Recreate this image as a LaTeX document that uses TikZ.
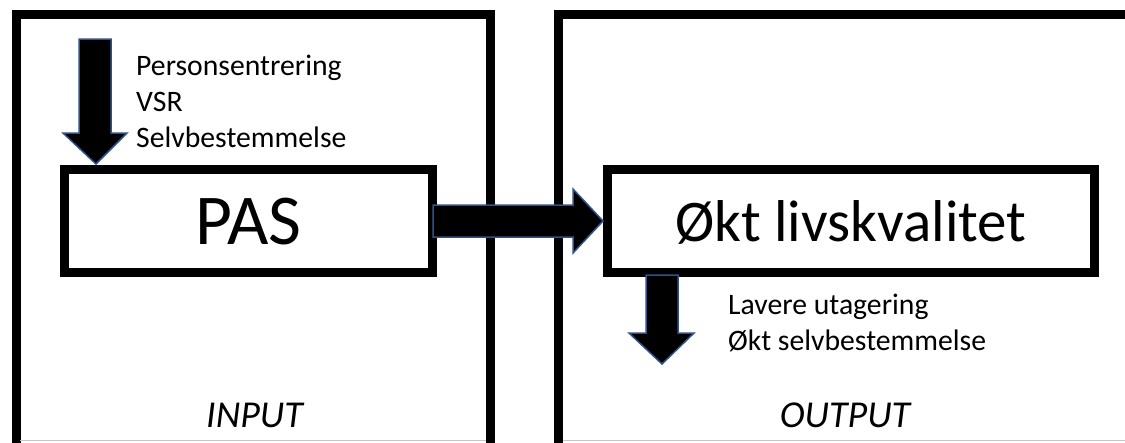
\documentclass[tikz,border=0pt]{standalone}
\usepackage{fontspec}
\setmainfont{Carlito}
\usetikzlibrary{calc}
\definecolor{arrowblue}{HTML}{2F528F}
\tikzset{
  frame/.style={line width=9pt, draw=black},
  innerbox/.style={draw=black, line width=9pt, fill=white, rectangle, inner sep=0pt, text depth=0pt},
  blockarrow/.style={fill=black, draw=arrowblue, line width=1.5pt, line join=miter},
  smalltxt/.style={anchor=base west, inner sep=0pt, font=\fontsize{29.7}{36}\selectfont},
  captxt/.style={anchor=base, inner sep=0pt, font=\fontsize{38}{40}\selectfont\itshape},
}
\begin{document}
\begin{tikzpicture}[x=1pt, y=-1pt]
\useasboundingbox (0,0) rectangle (1125,442);
\clip (0,0) rectangle (1125,442);
% big frames
\draw[frame] (16,460) -- (16,14.5) -- (490.5,14.5) -- (490.5,460);
\draw[frame] (558.5,460) -- (558.5,14.5) -- (1140,14.5);
\draw[gray!45, line width=1pt] (20,440.5) -- (486,440.5);
\draw[gray!45, line width=1pt] (563,440.5) -- (1125,440.5);
% inner boxes
\node[innerbox, minimum width=368pt, minimum height=103pt, font=\fontsize{71.5}{74}\selectfont] (pas) at (248.5,221) {PAS};
\node[innerbox, minimum width=487pt, minimum height=103pt, font=\fontsize{59}{64}\selectfont] (okt) at (851,221) {Økt livskvalitet};
% horizontal block arrow
\draw[blockarrow] ($(pas.east)+(-4,-16)$) -- ($(okt.west)+(-30,-16)$) -- ($(okt.west)+(-30,-32)$) -- (okt.west)
  -- ($(okt.west)+(-30,32)$) -- ($(okt.west)+(-30,16)$) -- ($(pas.east)+(-4,16)$) -- cycle;
% left down arrow
\coordinate (tipL) at ($(pas.north west)+(36,-1)$);
\draw[blockarrow] (tipL) -- ($(tipL)+(-33,-31)$) -- ($(tipL)+(-17,-31)$) -- ($(tipL)+(-17,-125)$)
  -- ($(tipL)+(15,-125)$) -- ($(tipL)+(15,-31)$) -- ($(tipL)+(31,-31)$) -- cycle;
% right down arrow
\coordinate (tipR) at ($(okt.south west)+(59,87)$);
\draw[blockarrow] (tipR) -- ($(tipR)+(-33,-31)$) -- ($(tipR)+(-16,-31)$) -- ($(tipR)+(-16,-89)$)
  -- ($(tipR)+(16,-89)$) -- ($(tipR)+(16,-31)$) -- ($(tipR)+(32,-31)$) -- cycle;
% labels
\node[smalltxt] (l1) at (136,75) {Personsentrering};
\node[smalltxt] (l2) at (136,111) {VSR};
\node[smalltxt] (l3) at (136,147) {Selvbestemmelse};
\node[smalltxt] (r1) at (728,314) {Lavere utagering};
\node[smalltxt] (r2) at (728,350) {Økt selvbestemmelse};
\node[captxt] (inp) at (254.5,427) {INPUT};
\node[captxt] (outp) at (845,427) {OUTPUT};
\end{tikzpicture}
\end{document}
